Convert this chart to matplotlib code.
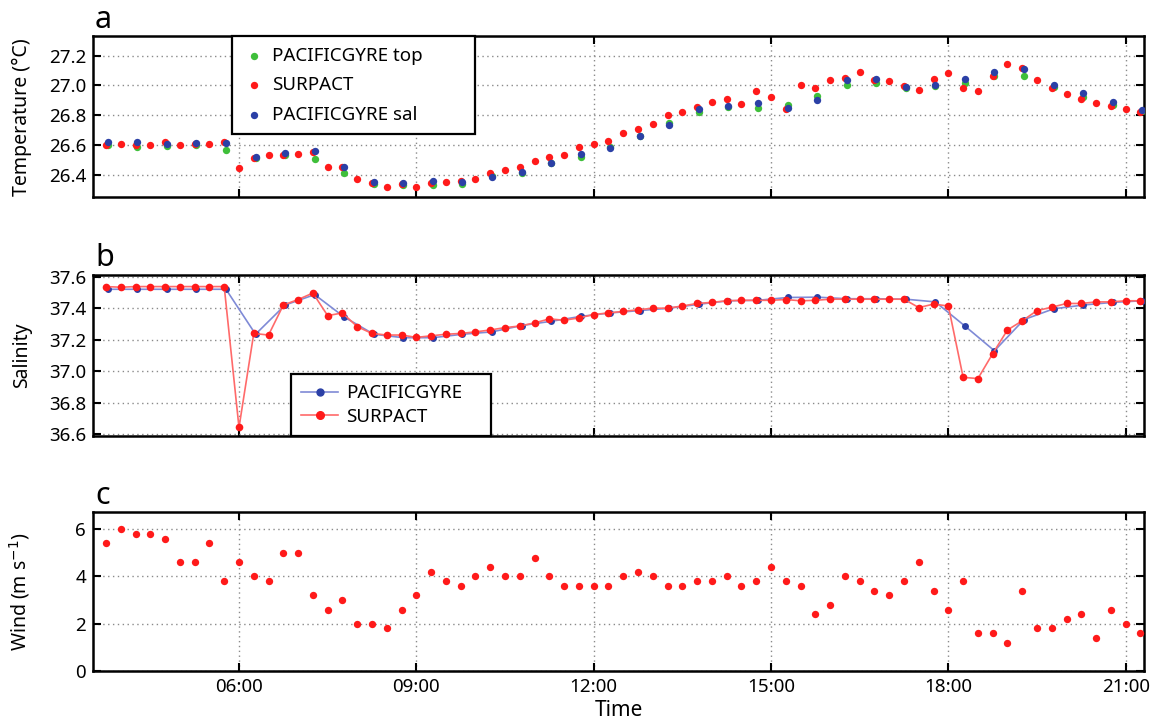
import numpy as np
import matplotlib
matplotlib.use("Agg")
import matplotlib.pyplot as plt
from matplotlib.ticker import FixedLocator, FuncFormatter

plt.rcParams['font.family'] = ['Noto Sans', 'DejaVu Sans']

# ---------------- data ----------------
# SURPACT sampling times (hours), every 15 minutes
t_surpact = np.arange(3.75, 21.26, 0.25)
# PACIFICGYRE sampling times (hours), every 30 minutes
t_gyre = np.arange(3.78, 21.30, 0.5)

temp_surpact = [26.60, 26.61, 26.60, 26.60, 26.62, 26.60, 26.61, 26.61, 26.62,
                26.445, 26.51, 26.53, 26.53, 26.54, 26.555, 26.45, 26.455, 26.37,
                26.345, 26.32, 26.34, 26.32, 26.345, 26.35,
                26.36, 26.37, 26.41, 26.43, 26.45, 26.49, 26.52, 26.53, 26.59,
                26.61, 26.63, 26.68, 26.705, 26.74, 26.80, 26.82, 26.857, 26.89,
                26.91, 26.875, 26.96, 26.92, 26.84, 27.00,
                26.985, 27.036, 27.05, 27.09, 27.036, 27.03, 26.996, 26.97, 27.045,
                27.085, 26.98, 26.963, 27.063, 27.147, 27.114, 27.036, 26.985,
                26.94, 26.91, 26.88, 26.864, 26.84, 26.824]

temp_gyre_top = [26.60, 26.59, 26.595, 26.60, 26.57, 26.51, 26.53, 26.504, 26.41,
                 26.34, 26.335, 26.335,
                 26.34, 26.39, 26.41, 26.48, 26.52, 26.59, 26.66, 26.75, 26.824,
                 26.857, 26.85, 26.87,
                 26.93, 27.003, 27.014, 26.985, 26.996, 27.018, 27.063, 27.063,
                 26.99, 26.92, 26.87, 26.83]

temp_gyre_sal = [26.62, 26.62, 26.61, 26.617, 26.617, 26.52, 26.544, 26.56, 26.455,
                 26.35, 26.345, 26.356,
                 26.35, 26.385, 26.42, 26.48, 26.54, 26.58, 26.66, 26.736, 26.84,
                 26.86, 26.88, 26.846,
                 26.90, 27.036, 27.045, 26.99, 27.00, 27.04, 27.09, 27.107,
                 27.00, 26.946, 26.89, 26.837]

sal_surpact = [37.537, 37.533, 37.537, 37.537, 37.537, 37.537, 37.537, 37.537, 37.537,
               36.644, 37.24, 37.23, 37.42, 37.455, 37.496, 37.353, 37.37, 37.283,
               37.24, 37.23, 37.23, 37.215, 37.225, 37.235,
               37.24, 37.25, 37.262, 37.277, 37.287, 37.307, 37.332, 37.324, 37.338,
               37.36, 37.37, 37.38, 37.39, 37.40, 37.40, 37.414, 37.43, 37.437,
               37.447, 37.45, 37.45, 37.45, 37.455, 37.447,
               37.45, 37.457, 37.457, 37.457, 37.457, 37.457, 37.457, 37.404, 37.426,
               37.414, 36.962, 36.954, 37.112, 37.262, 37.32, 37.385, 37.406,
               37.43, 37.43, 37.44, 37.44, 37.447, 37.447]

sal_gyre = [37.52, 37.52, 37.52, 37.52, 37.52, 37.235, 37.42, 37.486, 37.344,
            37.235, 37.213, 37.213,
            37.235, 37.25, 37.29, 37.317, 37.348, 37.37, 37.385, 37.40, 37.425,
            37.447, 37.45, 37.468,
            37.47, 37.46, 37.46, 37.457, 37.44, 37.287, 37.13, 37.328,
            37.396, 37.42, 37.437, 37.447]

wind_surpact = [5.4, 6.0, 5.8, 5.8, 5.6, 4.6, 4.6, 5.4, 3.8, 4.6,
                4.0, 3.8, 5.0, 5.0, 3.2, 2.6, 3.0, 2.0, 2.0, 1.8,
                2.6, 3.2, 4.2, 3.8, 3.6, 4.0, 4.4, 4.0, 4.0, 4.8,
                4.0, 3.6, 3.6, 3.6, 3.6, 4.0, 4.2, 4.0, 3.6, 3.6,
                3.8, 3.8, 4.0, 3.6, 3.8, 4.4, 3.8, 3.6, 2.4, 2.8,
                4.0, 3.8, 3.4, 3.2, 3.8, 4.6, 3.4, 2.6, 3.8, 1.6,
                1.6, 1.2, 3.4, 1.8, 1.8, 2.2, 2.4, 1.4, 2.6, 2.0, 1.6]

xticks = [6, 9, 12, 15, 18, 21]
temp_ticks = [26.4, 26.6, 26.8, 27.0, 27.2]
sal_ticks = [36.6, 36.8, 37.0, 37.2, 37.4, 37.6]
wind_ticks = [0, 2, 4, 6]

# ---------------- style ----------------
GREEN = '#3fbf3a'
RED = '#ff1a1a'
BLUE = '#2b40a6'
RED_LINE = '#ff6a6a'
BLUE_LINE = '#7f8ad6'

fig = plt.figure(figsize=(11.55, 7.25), dpi=100)
L, W = 0.0805, 0.910
ax_a = fig.add_axes([L, 0.728, W, 0.222])
ax_b = fig.add_axes([L, 0.3986, W, 0.222])
ax_c = fig.add_axes([L, 0.0745, W, 0.219])


def style(ax, yticks, ylim, ylabel, fmt):
    ax.set_xlim(3.53, 21.31)
    ax.set_ylim(*ylim)
    ax.xaxis.set_major_locator(FixedLocator(xticks))
    ax.yaxis.set_major_locator(FixedLocator(yticks))
    ax.yaxis.set_major_formatter(FuncFormatter(lambda v, p: fmt % v))
    ax.grid(True, linestyle=(0, (1, 2.5)), color='#8a8a8a', linewidth=1.0)
    ax.tick_params(direction='in', length=6, width=1.5, top=True, right=True,
                   labelsize=13.5, colors='black', pad=5)
    for s in ax.spines.values():
        s.set_linewidth(1.8)
    ax.set_ylabel(ylabel, fontsize=14)
    ax.yaxis.set_label_coords(-0.058, 0.5)
    ax.set_axisbelow(True)


# panel a
ax_a.scatter(t_gyre, temp_gyre_top, s=28, color=GREEN, linewidths=0,
             label='PACIFICGYRE top', zorder=3)
ax_a.scatter(t_surpact, temp_surpact, s=28, color=RED, linewidths=0,
             label='SURPACT', zorder=4)
ax_a.scatter(t_gyre, temp_gyre_sal, s=28, color=BLUE, linewidths=0,
             label='PACIFICGYRE sal', zorder=5)
style(ax_a, temp_ticks, (26.25, 27.33), 'Temperature (°C)', '%.1f')
ax_a.tick_params(labelbottom=False)
leg = ax_a.legend(loc='upper left', bbox_to_anchor=(0.132, 0.0, 0.231, 1.0),
                  mode='expand', borderaxespad=0,
                  fontsize=13.5, frameon=True, fancybox=False, framealpha=1,
                  edgecolor='black', handletextpad=0.3, handlelength=1.3,
                  labelspacing=0.62, borderpad=0.55, markerscale=1.0)
leg.get_frame().set_linewidth(1.6)

# panel b
ax_b.plot(t_gyre, sal_gyre, '-', color=BLUE_LINE, lw=1.2, zorder=3)
ax_b.plot(t_gyre, sal_gyre, 'o', color=BLUE, ms=5, mew=0, zorder=4)
ax_b.plot(t_surpact, sal_surpact, '-', color=RED_LINE, lw=1.2, zorder=5)
ax_b.plot(t_surpact, sal_surpact, 'o', color=RED, ms=5.5, mew=0, zorder=6)
style(ax_b, sal_ticks, (36.59, 37.61), 'Salinity', '%.1f')
ax_b.tick_params(labelbottom=False)
h1, = ax_b.plot([], [], '-o', color=BLUE_LINE, mfc=BLUE, mec=BLUE, ms=5, lw=1.2,
                label='PACIFICGYRE')
h2, = ax_b.plot([], [], '-o', color=RED_LINE, mfc=RED, mec=RED, ms=5.5, lw=1.2,
                label='SURPACT')
leg2 = ax_b.legend(handles=[h1, h2], loc='lower left',
                   bbox_to_anchor=(0.188, 0.0, 0.191, 1.0), mode='expand',
                   borderaxespad=0, fontsize=13.5, frameon=True, fancybox=False,
                   framealpha=1, edgecolor='black', handletextpad=0.4,
                   handlelength=2.0, labelspacing=0.3, borderpad=0.55)
leg2.get_frame().set_linewidth(1.6)
leg2.set_zorder(10)

# panel c
ax_c.scatter(t_surpact, wind_surpact, s=28, color=RED, linewidths=0, zorder=4)
style(ax_c, wind_ticks, (0, 6.72), 'Wind (m s$^{-1}$)', '%d')
ax_c.xaxis.set_major_formatter(FuncFormatter(lambda v, p: '%02d:00' % int(round(v))))
ax_c.set_xlabel('Time', fontsize=15, labelpad=3)

for ax, lab in ((ax_a, 'a'), (ax_b, 'b'), (ax_c, 'c')):
    ax.text(0.002, 1.01, lab, transform=ax.transAxes, fontsize=22,
            ha='left', va='bottom')

fig.savefig('out.png', dpi=100)
